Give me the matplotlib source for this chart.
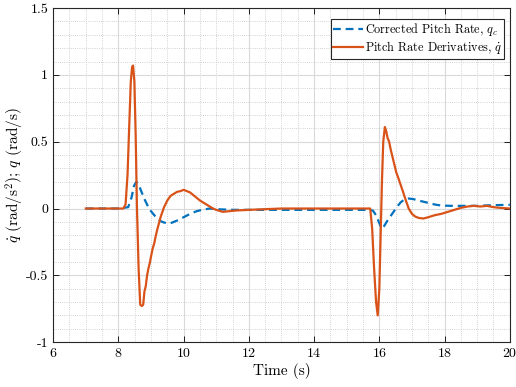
import matplotlib
matplotlib.use("Agg")
import matplotlib.pyplot as plt
from matplotlib.ticker import MultipleLocator

plt.rcParams['font.family'] = 'serif'
plt.rcParams['font.serif'] = ['cmr10', 'DejaVu Serif']
plt.rcParams['mathtext.fontset'] = 'cm'
plt.rcParams['axes.unicode_minus'] = False
plt.rcParams['axes.formatter.use_mathtext'] = True

# corrected pitch rate q_c (rad/s)
t_qc = [7.0, 7.5, 8.0, 8.3, 8.4, 8.48, 8.55, 8.62, 8.7, 8.8, 8.9, 9.0, 9.1, 9.2,
        9.3, 9.4, 9.5, 9.6, 9.8, 10.0, 10.2, 10.4, 10.6, 10.8, 11.0, 11.5, 12.0,
        13.0, 14.0, 15.0, 15.6, 15.8, 15.9, 16.0, 16.07, 16.15, 16.25, 16.35,
        16.45, 16.55, 16.65, 16.75, 16.9, 17.05, 17.2, 17.45, 17.7, 17.9, 18.2,
        18.5, 19.0, 19.5, 20.0]
qc = [0.0, 0.0, 0.0, 0.01, 0.08, 0.17, 0.2, 0.18, 0.13, 0.07, 0.02, -0.02, -0.05,
      -0.075, -0.095, -0.105, -0.11, -0.11, -0.09, -0.065, -0.04, -0.02, -0.008,
      0.0, -0.005, -0.01, -0.01, -0.01, -0.01, -0.01, -0.01, -0.015, -0.05,
      -0.11, -0.15, -0.13, -0.09, -0.055, -0.02, 0.015, 0.045, 0.065, 0.075,
      0.07, 0.06, 0.045, 0.03, 0.022, 0.02, 0.02, 0.02, 0.025, 0.028]

# pitch rate derivative q_dot (rad/s^2)
t_qd = [7.0, 7.3, 7.6, 8.0, 8.15, 8.22, 8.28, 8.33, 8.38, 8.42, 8.45, 8.49, 8.53,
        8.57, 8.62, 8.67, 8.72, 8.76, 8.8, 8.84, 8.88, 8.92, 8.96, 9.0, 9.05,
        9.1, 9.15, 9.2, 9.3, 9.4, 9.5, 9.6, 9.7, 9.8, 9.9, 10.0, 10.1, 10.2,
        10.3, 10.4, 10.5, 10.6, 10.7, 10.8, 10.9, 11.0, 11.2, 11.4, 11.6, 12.0,
        12.5, 13.0, 13.5, 14.0, 14.5, 15.0, 15.5, 15.72, 15.78, 15.84, 15.9,
        15.95, 16.0, 16.04, 16.08, 16.12, 16.17, 16.21, 16.25, 16.3, 16.35,
        16.4, 16.46, 16.52, 16.58, 16.65, 16.72, 16.8, 16.9, 17.0, 17.1, 17.2,
        17.35, 17.5, 17.7, 17.9, 18.1, 18.3, 18.5, 18.7, 18.9, 19.1, 19.3,
        19.5, 19.7, 20.0]
qd = [0.0, 0.0, 0.0, 0.0, 0.0, 0.03, 0.25, 0.6, 0.95, 1.06, 1.07, 0.95, 0.55,
      0.0, -0.45, -0.72, -0.73, -0.72, -0.62, -0.58, -0.5, -0.45, -0.41, -0.36,
      -0.3, -0.26, -0.2, -0.15, -0.06, 0.01, 0.06, 0.095, 0.11, 0.125, 0.13,
      0.14, 0.13, 0.12, 0.1, 0.08, 0.06, 0.045, 0.03, 0.015, 0.0, -0.01,
      -0.025, -0.02, -0.015, -0.01, -0.005, 0.0, 0.0, 0.0, 0.0, 0.0, 0.0, 0.0,
      -0.15, -0.45, -0.7, -0.8, -0.6, -0.2, 0.2, 0.5, 0.61, 0.58, 0.53, 0.5,
      0.44, 0.39, 0.33, 0.27, 0.23, 0.18, 0.13, 0.07, 0.0, -0.04, -0.06,
      -0.07, -0.075, -0.065, -0.05, -0.04, -0.025, -0.01, 0.005, 0.015, 0.02,
      0.015, 0.02, 0.01, 0.005, 0.0]

fig = plt.figure(figsize=(5.16, 3.87), dpi=100)
ax = fig.add_axes([0.103, 0.116, 0.885, 0.863])

ax.plot(t_qc, qc, '--', color='#0072BD', lw=1.6, dashes=(3.5, 2.2),
        label=r'Corrected Pitch Rate, $q_c$')
ax.plot(t_qd, qd, '-', color='#D95319', lw=1.6,
        label=r'Pitch Rate Derivatives, $\dot{q}$')

ax.set_xlim(6, 20)
ax.set_ylim(-1, 1.5)
ax.xaxis.set_major_locator(MultipleLocator(2))
ax.xaxis.set_minor_locator(MultipleLocator(0.5))
ax.yaxis.set_major_locator(MultipleLocator(0.5))
ax.yaxis.set_minor_locator(MultipleLocator(0.1))
ax.set_yticks([-1, -0.5, 0, 0.5, 1, 1.5])
ax.set_yticklabels(['-1', '-0.5', '0', '0.5', '1', '1.5'])

ax.grid(which='major', color='#d9d9d9', lw=0.8)
ax.grid(which='minor', color='#c4c4c4', lw=0.6, ls=(0, (1, 1.6)))
ax.set_axisbelow(True)
ax.tick_params(which='both', direction='in', top=True, right=True, labelsize=10)
ax.tick_params(which='minor', length=0)
ax.tick_params(which='major', length=4, width=0.6)
for s in ax.spines.values():
    s.set_linewidth(0.8)
    s.set_color('#262626')

ax.set_xlabel('Time (s)', fontsize=11, labelpad=2)
ax.set_ylabel(r'$\dot{q}$ (rad/s$^2$); $q$ (rad/s)', fontsize=11, labelpad=0)

leg = ax.legend(loc='upper right', fontsize=8.8, fancybox=False, framealpha=1,
                edgecolor='#262626', borderpad=0.2, handlelength=2.4,
                handletextpad=0.15, labelspacing=0.1,
                bbox_to_anchor=(0.988, 0.968), borderaxespad=0)
leg.get_frame().set_linewidth(0.8)

fig.savefig('out.png', dpi=100)
